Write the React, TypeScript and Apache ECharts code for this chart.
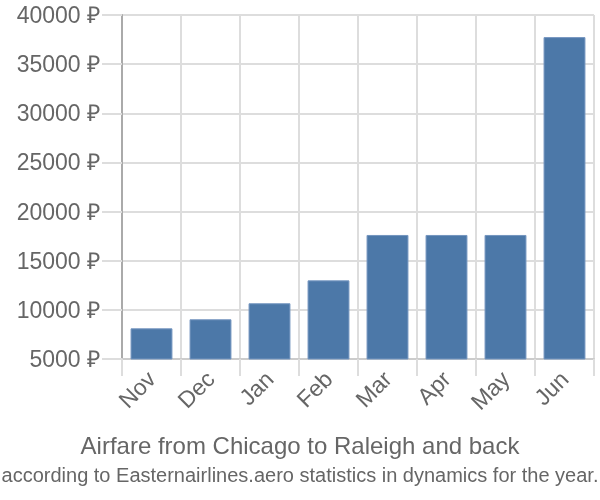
import React, { useEffect, useRef } from "react";
import * as echarts from "echarts";

const categories = ["Nov", "Dec", "Jan", "Feb", "Mar", "Apr", "May", "Jun"];
const prices = [8120, 9040, 10670, 13000, 17620, 17620, 17620, 37750];
const titleText = "Airfare from Chicago to Raleigh and back";
const subtitleText = "according to Easternairlines.aero statistics in dynamics for the year.";

export default function App() {
  const ref = useRef<HTMLDivElement>(null);
  useEffect(() => {
    const chart = echarts.init(ref.current!, null, { renderer: "svg" });
    chart.setOption({
      animation: false,
      textStyle: { fontFamily: "Liberation Sans, Arial, sans-serif" },
      title: [
        {
          text: titleText,
          left: "center",
          top: 428,
          textStyle: { fontSize: 24, fontWeight: "normal", color: "#666" },
        },
        {
          text: subtitleText,
          left: "center",
          top: 460,
          textStyle: { fontSize: 20, fontWeight: "normal", color: "#666" },
        },
      ],
      grid: { left: 122, top: 15, width: 472, height: 344 },
      xAxis: {
        type: "category",
        data: categories,
        axisLine: { show: true, lineStyle: { color: "#ccc", width: 2 } },
        axisTick: { show: true, length: 17, lineStyle: { color: "#ddd", width: 2 } },
        splitLine: { show: true, lineStyle: { color: "#ddd", width: 2 } },
        axisLabel: {
          rotate: 45,
          fontSize: 23,
          color: "#666",
          margin: 16,
        },
      },
      yAxis: {
        type: "value",
        min: 5000,
        max: 40000,
        interval: 5000,
        axisLine: { show: true, lineStyle: { color: "#aaa", width: 2 } },
        axisTick: { show: true, length: 20, lineStyle: { color: "#ddd", width: 2 } },
        splitLine: { show: true, lineStyle: { color: "#ddd", width: 2 } },
        axisLabel: {
          fontSize: 23,
          color: "#666",
          margin: 22,
          formatter: (v: number) => `${v} ₽`,
        },
      },
      series: [
        {
          type: "bar",
          data: prices,
          barWidth: "71%",
          itemStyle: { color: "#4c78a8", borderColor: "#7596c0", borderWidth: 1 },
        },
      ],
    });
    return () => chart.dispose();
  }, []);
  return (
    <div
      ref={ref}
      style={{ position: "fixed", left: 0, top: 0, width: 600, height: 500 }}
    />
  );
}
